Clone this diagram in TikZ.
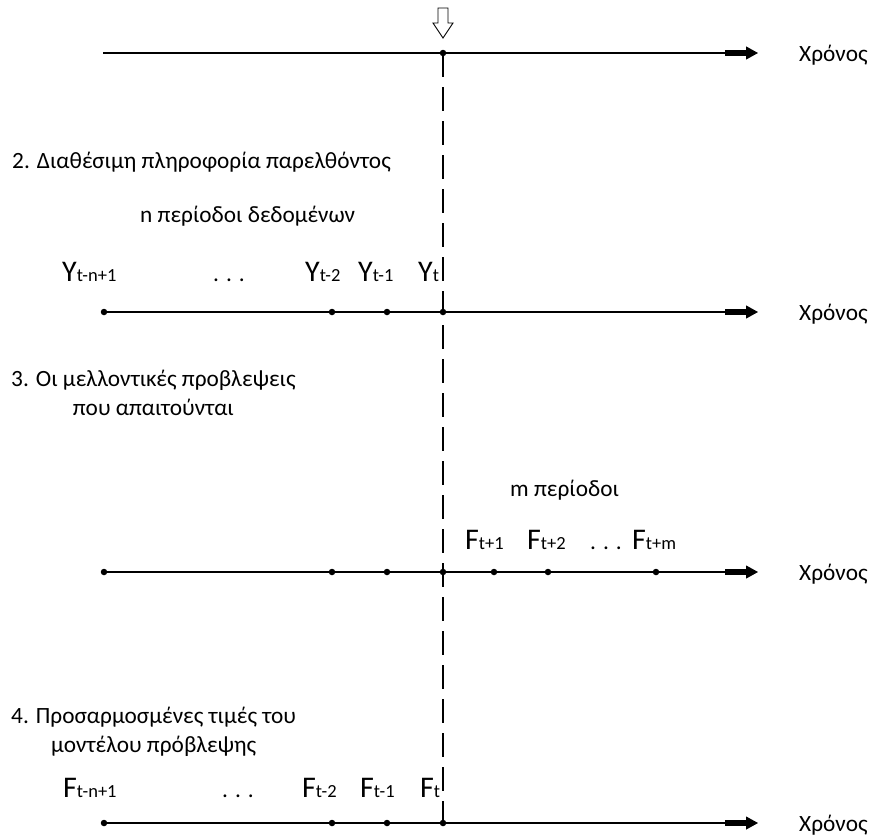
\documentclass[tikz,border=0pt]{standalone}
\usepackage{fontspec}
\setmainfont{Carlito}
\usetikzlibrary{arrows.meta,calc}

\tikzset{
  axis/.style={line width=1.1pt, -{Triangle[length=12pt,width=13pt]}},
  fatbar/.style={line width=5.5pt},
  tick/.style={circle, fill, inner sep=0pt, minimum size=6.5pt},
  lbl/.style={anchor=base west, inner sep=0pt, font=\fontsize{23.3}{28.5}\selectfont},
  nowline/.style={line width=1.1pt, dash pattern=on 24pt off 10pt},
}
\newcommand{\val}[2]{{\fontsize{30}{30}\selectfont #1}{\fontsize{18.5}{18.5}\selectfont #2}}

\begin{document}
\begin{tikzpicture}[x=1pt,y=-1pt]
\useasboundingbox (0,0) rectangle (874,836);

% paron
\node[tick] (a1-1) at (443,53) {};
\coordinate (s1) at (103,53);
\coordinate (e1) at (758,53);
\draw[axis] (s1) -- (e1);
\draw[fatbar] ($(e1)+(-33,0)$) -- ($(e1)+(-11,0)$);
\node[lbl] (t1) at (799,61) {Χρόνος};
\draw[line width=0.9pt, fill=white] (438,8) -- (448,8) -- (448,23) -- (453,23)
  -- (443,38) -- (433,23) -- (438,23) -- cycle;

% 2. parelthon
\node[lbl] (h2) at (12,168) {2. Διαθέσιμη πληροφορία παρελθόντος};
\node[lbl] (n2) at (140,222) {n περίοδοι δεδομένων};
\foreach \x [count=\i] in {104,332,387,443}
  \node[tick] (a2-\i) at (\x,312) {};
\coordinate (e2) at (758,312);
\draw[axis] (a2-1.center) -- (e2);
\draw[fatbar] ($(e2)+(-33,0)$) -- ($(e2)+(-11,0)$);
\node[lbl] (t2) at (799,320) {Χρόνος};
\node[lbl] (y1) at (62,281) {\val{Y}{t-n+1}};
\node[lbl] (y2) at (213,281) {. . .};
\node[lbl] (y3) at (305,281) {\val{Y}{t-2}};
\node[lbl] (y4) at (358,281) {\val{Y}{t-1}};
\node[lbl] (y5) at (418,281) {\val{Y}{t}};

% 3. provlepseis
\node[lbl, align=center, anchor=north west] (h3) at (11,370)
  {3. Οι μελλοντικές προβλεψεις\\που απαιτούνται};
\node[lbl] (m3) at (510,496) {m περίοδοι};
\foreach \x [count=\i] in {104,332,387,443,494,548,656}
  \node[tick] (a3-\i) at (\x,572) {};
\coordinate (e3) at (758,572);
\draw[axis] (a3-1.center) -- (e3);
\draw[fatbar] ($(e3)+(-33,0)$) -- ($(e3)+(-11,0)$);
\node[lbl] (t3) at (799,580) {Χρόνος};
\node[lbl] (f1) at (465,549) {\val{F}{t+1}};
\node[lbl] (f2) at (527,549) {\val{F}{t+2}};
\node[lbl] (f3) at (590,549) {. . .};
\node[lbl] (f4) at (632,549) {\val{F}{t+m}};

% 4. prosarmosmenes
\node[lbl, align=center, anchor=north west] (h4) at (11,707)
  {4. Προσαρμοσμένες τιμές του\\μοντέλου πρόβλεψης};
\foreach \x [count=\i] in {104,332,387,443}
  \node[tick] (a4-\i) at (\x,823) {};
\coordinate (e4) at (758,823);
\draw[axis] (a4-1.center) -- (e4);
\draw[fatbar] ($(e4)+(-33,0)$) -- ($(e4)+(-11,0)$);
\node[lbl] (t4) at (799,831) {Χρόνος};
\node[lbl] (g1) at (63,797) {\val{F}{t-n+1}};
\node[lbl] (g2) at (222,797) {. . .};
\node[lbl] (g3) at (302,797) {\val{F}{t-2}};
\node[lbl] (g4) at (360,797) {\val{F}{t-1}};
\node[lbl] (g5) at (420,797) {\val{F}{t}};

% twra
\draw[nowline] (a1-1.center) -- (a4-4.center);
\end{tikzpicture}
\end{document}
